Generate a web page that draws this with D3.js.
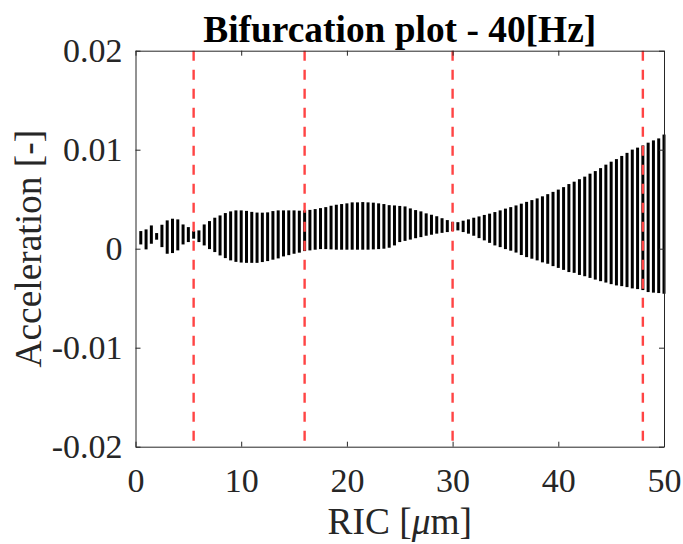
<!DOCTYPE html>
<html>
<head>
<meta charset="utf-8">
<script src="https://cdn.jsdelivr.net/npm/d3@7"></script>
<style>
  html, body { margin: 0; padding: 0; background: #fff; }
  svg text { font-family: "Liberation Serif", "Times New Roman", serif; fill: #262626; }
</style>
</head>
<body>
<svg id="chart" width="683" height="544"></svg>
<script>
// ---- Data ----
const ricValues = [
  0.5, 1.0, 1.5, 2.0, 2.5, 3.0, 3.5, 4.0, 4.5, 5.0,
  5.5, 6.0, 6.5, 7.0, 7.5, 8.0, 8.5, 9.0, 9.5, 10.0,
  10.5, 11.0, 11.5, 12.0, 12.5, 13.0, 13.5, 14.0, 14.5, 15.0,
  15.5, 16.0, 16.5, 17.0, 17.5, 18.0, 18.5, 19.0, 19.5, 20.0,
  20.5, 21.0, 21.5, 22.0, 22.5, 23.0, 23.5, 24.0, 24.5, 25.0,
  25.5, 26.0, 26.5, 27.0, 27.5, 28.0, 28.5, 29.0, 29.5, 30.0,
  30.5, 31.0, 31.5, 32.0, 32.5, 33.0, 33.5, 34.0, 34.5, 35.0,
  35.5, 36.0, 36.5, 37.0, 37.5, 38.0, 38.5, 39.0, 39.5, 40.0,
  40.5, 41.0, 41.5, 42.0, 42.5, 43.0, 43.5, 44.0, 44.5, 45.0,
  45.5, 46.0, 46.5, 47.0, 47.5, 48.0, 48.5, 49.0, 49.5, 50.0
];
const accMax = [
  0.00178, 0.00195, 0.00235, 0.00158, 0.00242, 0.00286, 0.00303, 0.00296, 0.00245, 0.00218,
  0.00178, 0.00185, 0.00245, 0.00279, 0.00313, 0.00336, 0.00360, 0.00377, 0.00387, 0.00387,
  0.00382, 0.00372, 0.00365, 0.00364, 0.00367, 0.00380, 0.00387, 0.00387, 0.00387, 0.00387,
  0.00384, 0.00387, 0.00392, 0.00400, 0.00410, 0.00420, 0.00434, 0.00444, 0.00451, 0.00458,
  0.00468, 0.00468, 0.00471, 0.00468, 0.00465, 0.00458, 0.00451, 0.00440, 0.00437, 0.00432,
  0.00427, 0.00407, 0.00390, 0.00377, 0.00357, 0.00343, 0.00328, 0.00308, 0.00289, 0.00271,
  0.00268, 0.00283, 0.00296, 0.00313, 0.00326, 0.00341, 0.00354, 0.00370, 0.00387, 0.00405,
  0.00420, 0.00437, 0.00455, 0.00473, 0.00491, 0.00508, 0.00529, 0.00551, 0.00574, 0.00597,
  0.00622, 0.00653, 0.00677, 0.00702, 0.00728, 0.00758, 0.00784, 0.00814, 0.00849, 0.00879,
  0.00905, 0.00937, 0.00968, 0.01001, 0.01021, 0.01043, 0.01071, 0.01094, 0.01114, 0.01153
];
const accMin = [
  0.00043, -0.00007, 0.00050, 0.00091, 0.00016, -0.00051, -0.00044, -0.00017, 0.00043, 0.00067,
  0.00101, 0.00067, 0.00033, -0.00004, -0.00034, -0.00068, -0.00095, -0.00118, -0.00133, -0.00140,
  -0.00143, -0.00143, -0.00143, -0.00135, -0.00125, -0.00111, -0.00098, -0.00078, -0.00065, -0.00051,
  -0.00040, -0.00024, -0.00017, -0.00010, -0.00004, -0.00004, -0.00007, -0.00010, -0.00010, -0.00010,
  -0.00010, -0.00010, -0.00010, -0.00010, -0.00007, -0.00004, 0.00000, 0.00010, 0.00033, 0.00067,
  0.00079, 0.00092, 0.00106, 0.00117, 0.00131, 0.00141, 0.00152, 0.00160, 0.00168, 0.00178,
  0.00185, 0.00168, 0.00152, 0.00131, 0.00107, 0.00084, 0.00059, 0.00033, 0.00016, -0.00004,
  -0.00020, -0.00039, -0.00064, -0.00085, -0.00101, -0.00118, -0.00138, -0.00152, -0.00176, -0.00194,
  -0.00214, -0.00236, -0.00244, -0.00265, -0.00278, -0.00295, -0.00312, -0.00328, -0.00342, -0.00358,
  -0.00371, -0.00378, -0.00388, -0.00401, -0.00408, -0.00418, -0.00438, -0.00444, -0.00448, -0.00455
];
const bifurcationRIC = [5.5, 16, 30, 48];
const xTickValues = [0, 10, 20, 30, 40, 50];
const xTickLabels = ["0", "10", "20", "30", "40", "50"];
const yTickValues = [-0.02, -0.01, 0, 0.01, 0.02];
const yTickLabels = ["-0.02", "-0.01", "0", "0.01", "0.02"];
const titleText = "Bifurcation plot - 40[Hz]";

// ---- Layout ----
const svg = d3.select("#chart");
const plotLeft = 135.5, plotRight = 664, plotTop = 50.7, plotBottom = 446.7;
const x = d3.scaleLinear().domain([0, 50]).range([plotLeft, plotRight]);
const y = d3.scaleLinear().domain([-0.02, 0.02]).range([plotBottom, plotTop]);
const axisColor = "#262626";

svg.append("rect").attr("width", 683).attr("height", 544).attr("fill", "#fff");

// bars (min-max vertical lines)
const data = ricValues.map((r, i) => ({ r, lo: accMin[i], hi: accMax[i] }));
svg.append("g").selectAll("line").data(data).join("line")
  .attr("x1", d => x(d.r)).attr("x2", d => x(d.r))
  .attr("y1", d => y(d.hi)).attr("y2", d => y(d.lo))
  .attr("stroke", "#000").attr("stroke-width", 3);

// red dashed lines
svg.append("g").selectAll("line").data(bifurcationRIC).join("line")
  .attr("x1", d => x(d)).attr("x2", d => x(d))
  .attr("y1", y(0.02)).attr("y2", y(-0.02))
  .attr("stroke", "#ff4444").attr("stroke-width", 2.4)
  .attr("stroke-dasharray", "10,9");

// axes
const tickFont = 34;
const gx = svg.append("g").attr("transform", `translate(0,${plotBottom})`)
  .call(d3.axisBottom(x).tickValues(xTickValues)
    .tickFormat((d, i) => xTickLabels[i]).tickSizeInner(-5).tickSizeOuter(0).tickPadding(21));
const gy = svg.append("g").attr("transform", `translate(${plotLeft},0)`)
  .call(d3.axisLeft(y).tickValues(yTickValues)
    .tickFormat((d, i) => yTickLabels[i]).tickSizeInner(-5).tickSizeOuter(0).tickPadding(13));
const gt = svg.append("g").attr("transform", `translate(0,${plotTop})`)
  .call(d3.axisTop(x).tickValues(xTickValues).tickFormat("").tickSizeInner(-5).tickSizeOuter(0));
const gr = svg.append("g").attr("transform", `translate(${plotRight},0)`)
  .call(d3.axisRight(y).tickValues(yTickValues).tickFormat("").tickSizeInner(-5).tickSizeOuter(0));

[gx, gy, gt, gr].forEach(g => {
  g.select(".domain").attr("stroke", axisColor).attr("stroke-width", 1);
  g.selectAll(".tick line").attr("stroke", axisColor).attr("stroke-width", 1);
  g.selectAll(".tick text").attr("font-size", tickFont)
    .attr("font-family", "'Liberation Serif', serif").attr("fill", axisColor);
});

// labels
svg.append("text").attr("x", (plotLeft + plotRight) / 2).attr("y", 534)
  .attr("text-anchor", "middle").attr("font-size", 37.4)
  .html('RIC [<tspan font-style="italic">μ</tspan>m]');

svg.append("text")
  .attr("transform", `translate(41,${(plotTop + plotBottom) / 2}) rotate(-90)`)
  .attr("text-anchor", "middle").attr("font-size", 37.4)
  .text("Acceleration [-]");

svg.append("text").attr("x", (plotLeft + plotRight) / 2).attr("y", 42)
  .attr("text-anchor", "middle").attr("font-size", 37.4).attr("font-weight", "bold")
  .style("fill", "#000")
  .text(titleText);
</script>
</body>
</html>
